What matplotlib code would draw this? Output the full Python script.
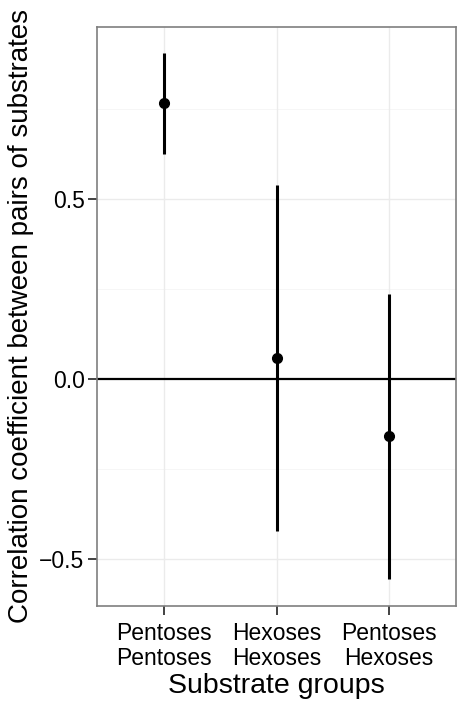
import matplotlib
matplotlib.use('Agg')
import matplotlib.pyplot as plt
import numpy as np

'''
correlation between pairs of substrates, by substrate group
'''

groups = ['Pentoses\nPentoses', 'Hexoses\nHexoses', 'Pentoses\nHexoses']
corr = [0.766, 0.059, -0.158]
ci_low = [0.624, -0.422, -0.556]
ci_high = [0.907, 0.539, 0.236]

plt.rcParams['font.family'] = ['Liberation Sans', 'DejaVu Sans']

fig = plt.figure(figsize=(4.59, 7.03), dpi=100)
ax = fig.add_axes([97/459, 1-605.7/703, (456-97)/459, (605.7-26.7)/703])

x = np.arange(1, len(groups)+1)

#grid like theme_bw
for v in [-0.75, -0.25, 0.25, 0.75]:
    ax.axhline(v, color='#f5f5f5', lw=0.6, zorder=0)
for v in [-0.5, 0.5]:
    ax.axhline(v, color='#ebebeb', lw=1.0, zorder=0)
for xi in x:
    ax.axvline(xi, color='#ebebeb', lw=1.0, zorder=0)

ax.axhline(0, color='black', lw=1.6, zorder=1)
ax.vlines(x, ci_low, ci_high, color='black', lw=2.2, zorder=2)
ax.plot(x, corr, 'o', color='black', ms=7, zorder=3)

ax.set_xlim(0.4, 3.6)
ax.set_ylim(-0.63, 0.979)
ax.set_xticks(x)
ax.set_xticklabels(groups, linespacing=1.12)
ax.set_yticks([-0.5, 0.0, 0.5])
ax.set_yticklabels(['\u22120.5', '0.0', '0.5'])
ax.tick_params(axis='both', length=6.5, width=1.3, color='#333333', labelsize=16.5, labelcolor='black', pad=2.5)
ax.tick_params(axis='x', pad=5)

for s in ax.spines.values():
    s.set_color('#7f7f7f')
    s.set_linewidth(1.2)

ax.set_xlabel('Substrate groups', fontsize=20.5, labelpad=2)
ax.set_ylabel('Correlation coefficient between pairs of substrates', fontsize=20, labelpad=4)

fig.savefig('out.png', dpi=100)
